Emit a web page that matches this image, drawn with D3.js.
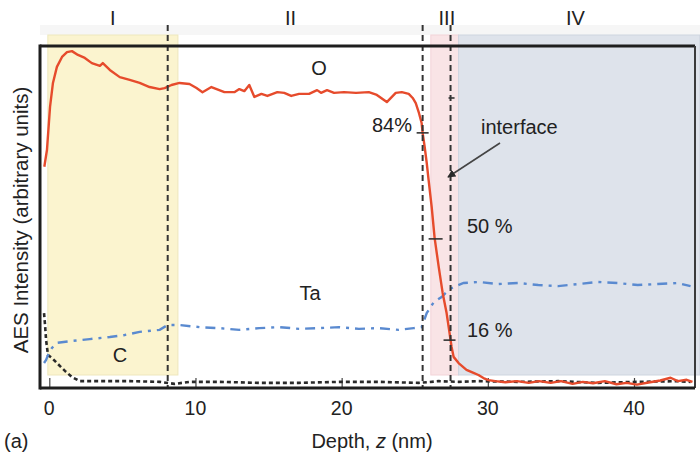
<!DOCTYPE html>
<html>
<head>
<meta charset="utf-8">
<script src="https://cdn.jsdelivr.net/npm/d3@7"></script>
<style>
  html, body { margin: 0; padding: 0; background: #fff; }
  svg { display: block; font-family: "Liberation Sans", Arial, sans-serif; }
</style>
</head>
<body>
<svg id="chart" width="700" height="458"></svg>
<script>
// ---------- DATA ----------
const xTicks = [0, 10, 20, 30, 40];
const xTickLabels = ["0", "10", "20", "30", "40"];

// O (oxygen) profile
const oDepth = [-0.34,-0.16,0.05,0.25,0.52,0.87,1.21,1.55,1.96,2.43,2.91,3.46,3.66,4.14,4.82,5.50,6.18,6.86,7.55,7.89,8.36,8.91,9.59,10.07,10.48,11.09,11.98,12.66,13.00,13.34,13.68,14.03,14.51,14.92,15.60,16.07,16.55,17.09,17.77,18.32,18.59,19.00,19.48,20.16,20.98,21.86,22.41,23.09,23.70,24.11,24.59,24.86,25.07,25.27,25.47,25.54,25.68,25.82,25.95,26.16,26.36,26.64,26.91,27.18,27.38,27.52,27.66,28.00,28.54,29.02,29.36,29.70,30.04,30.5,31.2,32.0,32.8,33.5,34.3,35.0,35.8,36.5,37.2,38.0,38.8,39.5,40.2,41.0,41.8,42.5,43.0,43.6,44.0];
const oValue = [64.7,69.6,82.2,89.2,93.9,96.8,98.2,98.5,97.4,96.5,95.0,94.2,95.0,93.0,90.9,90.1,89.2,88.0,87.4,87.7,88.6,89.2,88.9,87.7,86.5,88.0,86.5,86.5,87.4,86.8,88.6,85.1,86.0,85.4,86.5,86.3,85.4,86.0,86.0,87.1,86.3,87.1,86.3,86.5,86.3,86.5,85.7,83.6,86.3,86.5,86.0,84.8,83.3,80.7,77.5,74.6,70.5,65.8,60.8,52.9,43.9,35.4,27.8,21.9,16.1,12.0,9.1,7.3,5.3,4.4,3.8,2.9,2.3,2.0,1.7,2.0,1.5,2.0,1.5,2.0,1.2,1.8,1.4,2.0,1.1,1.5,1.0,1.6,2.2,3.0,2.0,2.4,1.8];

// Ta profile
const taDepth = [-0.36,-0.22,-0.09,0.18,0.52,1.41,2.77,4.14,5.16,6.18,7.55,8.09,8.91,10.27,11.64,13.00,14.36,15.73,17.09,18.45,19.82,21.18,22.54,23.91,24.93,25.47,25.82,26.30,26.84,27.32,27.66,28.34,29.36,30.72,32.08,33.45,34.81,36.17,37.53,38.89,40.25,41.62,42.98,43.87];
const taValue = [7.3,8.2,9.6,11.7,13.2,13.7,14.3,14.9,15.5,16.4,17.0,18.4,18.4,17.8,17.5,17.0,17.5,17.8,17.3,17.5,17.8,17.3,17.5,17.0,17.5,17.8,21.9,25.1,26.6,28.7,29.5,30.7,31.0,30.4,30.7,30.1,29.8,30.4,31.0,30.7,30.1,30.4,30.7,29.8];

// C profile
const cDepth = [-0.36,-0.29,-0.22,-0.09,0.18,0.59,1.07,1.55,2.09,3.46,5.50,7.55,8.57,9.59,11.64,14.36,17.09,19.82,22.54,25.27,26.64,28.00,29.36,32.08,34.81,37.53,40.25,42.98,43.87];
const cValue = [21.9,18.4,14.0,9.6,8.8,7.0,5.0,3.2,2.0,2.0,2.0,1.8,1.2,1.8,1.8,1.5,1.5,1.8,1.8,1.5,2.0,1.8,2.0,1.8,2.0,1.5,1.8,2.0,1.8];

// Regions (depth, nm)
const regionNames = ["I", "II", "III", "IV"];
const regionLabelDepth = [4.35, 16.5, 27.2, 36.0];
const shadeStart = [-0.1, 26.1, 28.0];
const shadeEnd = [8.8, 28.0, 44.5];
const shadeColor = ["#fbf4cf", "#f9e4e6", "#dee3eb"];
const shadeStroke = ["#eee7bd", "#f2d4d8", "#ced5df"];
const boundaryDepth = [8.1, 25.54, 27.45];

// Percent markers on O curve
const markLabels = ["84%", "50 %", "16 %"];
const markDepth = [25.54, 26.36, 27.38];
const markValue = [74.6, 43.6, 14.0];
const extraMarkDepth = [27.45];
const extraMarkValue = [84.8];

// ---------- LAYOUT ----------
const svg = d3.select("#chart");
const L = 40, T = 46, R = 695, B = 388;
const x = d3.scaleLinear().domain([0, 40]).range([49.3, 634]);
const y = d3.scaleLinear().domain([0, 100]).range([B, T]);

// faint band on top
svg.append("rect").attr("x", L).attr("y", 25).attr("width", 660).attr("height", 10).attr("fill", "#f6f6f6");

// shaded regions
svg.selectAll("rect.shade").data(shadeStart).enter().append("rect")
  .attr("class", "shade")
  .attr("x", (d) => x(d))
  .attr("y", 35)
  .attr("width", (d, i) => x(shadeEnd[i]) - x(d))
  .attr("height", 340)
  .attr("fill", (d, i) => shadeColor[i])
  .attr("stroke", (d, i) => shadeStroke[i])
  .attr("stroke-width", 1);

// frame
const frame = svg.append("g");
frame.append("line").attr("x1", L).attr("x2", R).attr("y1", T).attr("y2", T).attr("stroke", "#1e1e1e").attr("stroke-width", 3);
frame.append("line").attr("x1", L).attr("x2", L).attr("y1", T - 1.5).attr("y2", B + 1.5).attr("stroke", "#1e1e1e").attr("stroke-width", 3);
frame.append("line").attr("x1", R).attr("x2", R).attr("y1", T).attr("y2", B).attr("stroke", "#3a3a3a").attr("stroke-width", 2);

// x axis ticks (inward)
const xAxis = d3.axisTop(x).tickValues(xTicks).tickFormat("").tickSize(10).tickSizeOuter(0);
const gx = svg.append("g").attr("transform", `translate(0,${B})`).call(xAxis);
gx.select(".domain").remove();
gx.selectAll(".tick line").attr("stroke", "#444").attr("stroke-width", 1.2);

svg.selectAll("text.xtl").data(xTicks).enter().append("text")
  .attr("class", "xtl")
  .attr("x", (d) => x(d))
  .attr("y", 415)
  .attr("text-anchor", "middle")
  .attr("font-size", 19.5)
  .attr("fill", "#222")
  .text((d, i) => xTickLabels[i]);

// lines
const line = (dx, dy) => d3.line().x((d, i) => x(dx[i])).y((d, i) => y(dy[i]))(dx);

svg.append("path").attr("d", line(cDepth, cValue))
  .attr("fill", "none").attr("stroke", "#2a2a2a").attr("stroke-width", 2.6)
  .attr("stroke-dasharray", "4,3");

svg.append("path").attr("d", line(taDepth, taValue))
  .attr("fill", "none").attr("stroke", "#5a8ad0").attr("stroke-width", 2.4)
  .attr("stroke-dasharray", "10,6,3,6");

svg.append("path").attr("d", line(oDepth, oValue))
  .attr("fill", "none").attr("stroke", "#e64b2c").attr("stroke-width", 2.4)
  .attr("stroke-linejoin", "round");

// boundary dashed lines
svg.selectAll("line.bnd").data(boundaryDepth).enter().append("line")
  .attr("class", "bnd")
  .attr("x1", (d) => x(d)).attr("x2", (d) => x(d))
  .attr("y1", 25).attr("y2", B)
  .attr("stroke", "#333").attr("stroke-width", 2)
  .attr("stroke-dasharray", "6,4");

// bottom frame line (on top of curves)
frame.raise();
svg.append("line").attr("x1", L).attr("x2", R).attr("y1", B).attr("y2", B).attr("stroke", "#1e1e1e").attr("stroke-width", 3);

// percent markers
svg.selectAll("line.mk").data(markDepth).enter().append("line")
  .attr("class", "mk")
  .attr("x1", (d) => x(d) - 6).attr("x2", (d, i) => x(d) + (i === 1 ? 8 : 6))
  .attr("y1", (d, i) => y(markValue[i])).attr("y2", (d, i) => y(markValue[i]))
  .attr("stroke", "#333").attr("stroke-width", 1.6);
svg.selectAll("line.mk2").data(extraMarkDepth).enter().append("line")
  .attr("class", "mk2")
  .attr("x1", (d) => x(d) - 2).attr("x2", (d) => x(d) + 4)
  .attr("y1", (d, i) => y(extraMarkValue[i])).attr("y2", (d, i) => y(extraMarkValue[i]))
  .attr("stroke", "#333").attr("stroke-width", 1.6);

// labels
const txt = (s, px, py, anchor, size) => svg.append("text").attr("x", px).attr("y", py)
  .attr("text-anchor", anchor || "start").attr("font-size", size || 20).attr("fill", "#222").text(s);

svg.selectAll("text.rn").data(regionNames).enter().append("text")
  .attr("class", "rn")
  .attr("x", (d, i) => x(regionLabelDepth[i]))
  .attr("y", 25)
  .attr("text-anchor", "middle")
  .attr("font-size", 20)
  .attr("fill", "#222")
  .text((d) => d);

txt(markLabels[0], 372, 132);
txt(markLabels[1], 467, 233);
txt(markLabels[2], 467, 337);
txt("interface", 481, 134);
txt("O", 319, 75, "middle");
txt("Ta", 310, 300, "middle");
txt("C", 120, 362, "middle");

// arrow
const defs = svg.append("defs");
defs.append("marker").attr("id", "ah").attr("viewBox", "0 0 10 10").attr("refX", 9).attr("refY", 5)
  .attr("markerWidth", 5).attr("markerHeight", 5).attr("orient", "auto")
  .append("path").attr("d", "M0,0 L10,5 L0,10 z").attr("fill", "#2a2a2a");
svg.append("line").attr("x1", 500).attr("y1", 143).attr("x2", 448).attr("y2", 177)
  .attr("stroke", "#444").attr("stroke-width", 1.6).attr("marker-end", "url(#ah)");

// axis titles
svg.append("text").attr("transform", "translate(28,220) rotate(-90)")
  .attr("text-anchor", "middle").attr("font-size", 20.5).attr("fill", "#222")
  .text("AES Intensity (arbitrary units)");

const xt = svg.append("text").attr("x", 372).attr("y", 448).attr("text-anchor", "middle")
  .attr("font-size", 20).attr("fill", "#222");
xt.append("tspan").text("Depth, ");
xt.append("tspan").attr("font-style", "italic").text("z");
xt.append("tspan").text(" (nm)");

txt("(a)", 4, 448, "start", 20);
</script>
</body>
</html>
